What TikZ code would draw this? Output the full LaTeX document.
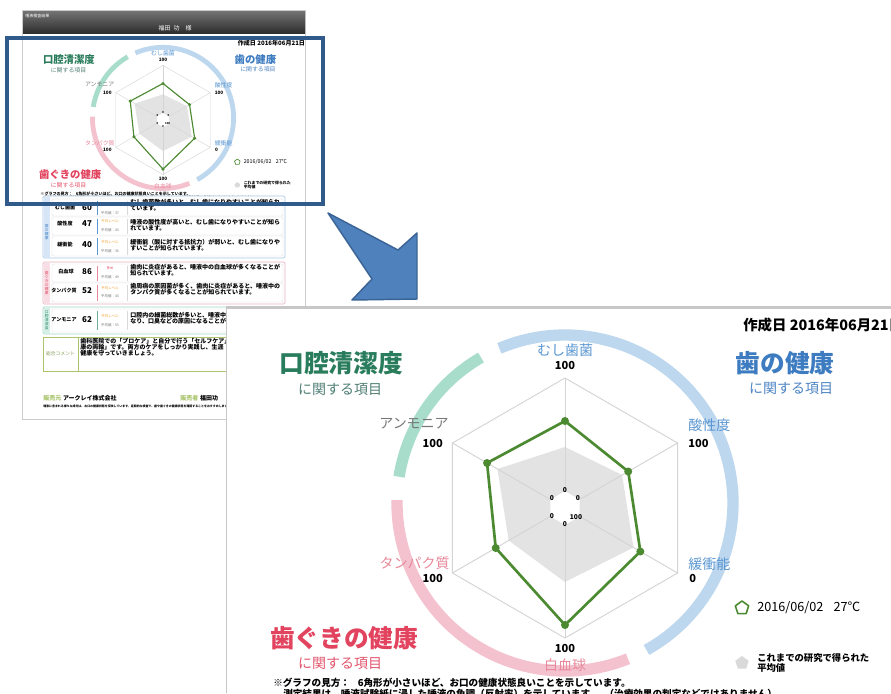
\documentclass[tikz,border=0pt]{standalone}
\usepackage{fontspec}
\setmainfont{Noto Sans CJK JP}
\definecolor{ringblue}{HTML}{BDD7EE}
\definecolor{ringteal}{HTML}{A9DDCB}
\definecolor{ringpink}{HTML}{F4C2CF}
\definecolor{titlegreen}{HTML}{2A7D5C}
\definecolor{subgreen}{HTML}{4F7F74}
\definecolor{titleblue}{HTML}{3D7CC1}
\definecolor{subblue}{HTML}{4C84C4}
\definecolor{titlered}{HTML}{E2445F}
\definecolor{subred}{HTML}{E2566E}
\definecolor{axisblue}{HTML}{5A96D2}
\definecolor{axispink}{HTML}{E8899B}
\definecolor{axisgray}{HTML}{777777}
\definecolor{plotgreen}{HTML}{4C8A32}
\definecolor{avggray}{HTML}{E3E3E3}
\definecolor{gridgray}{HTML}{D4D4D4}
\definecolor{framebl}{HTML}{2F5A89}
\definecolor{arrowfill}{HTML}{4F81BD}
\definecolor{arrowdraw}{HTML}{3B6496}
\definecolor{gonebord}{HTML}{A8C8E8}
\definecolor{gonestrip}{HTML}{D6E6F6}
\definecolor{gtwobord}{HTML}{EBB5C2}
\definecolor{gtwostrip}{HTML}{F8DDE4}
\definecolor{gthreebord}{HTML}{9FD6C5}
\definecolor{gthreestrip}{HTML}{D5EFE7}
\definecolor{gthreetext}{HTML}{2A8A6C}
\definecolor{gfourbord}{HTML}{A9C46C}
\definecolor{levorange}{HTML}{F0A030}

\newcommand\chartbody{%
  % coloured rings
  \draw[ringst, ringteal] plot[domain=-171:-120, samples=40, variable=\ang] ({565+168*cos(\ang)},{503+168*sin(\ang)});
  \draw[ringst, ringblue] plot[domain=-113:61, samples=120, variable=\ang] ({565+168*cos(\ang)},{503+168*sin(\ang)});
  \draw[ringst, ringpink] plot[domain=68:181, samples=80, variable=\ang] ({565+168*cos(\ang)},{503+168*sin(\ang)});
  % radar
  \begin{scope}[shift={(565,508)}]
    \fill[avggray, even odd rule] (-90:61) -- (-30:66) -- (30:79) -- (90:74) -- (150:65) -- (210:78) -- cycle
      (-90:17) -- (-30:17) -- (30:17) -- (90:17) -- (150:17) -- (210:17) -- cycle;
    \draw[gridst] (-90:130) -- (-30:130) -- (30:130) -- (90:130) -- (150:130) -- (210:130) -- cycle;
    \foreach \aa in {-90,-30,30,90,150,210} \draw[gridst] (\aa:17) -- (\aa:130);
    \draw[greenst] (-90:87) -- (-30:73) -- (30:87) -- (90:117) -- (150:80) -- (210:90) -- cycle;
    \foreach \aa/\rr in {-90/87,-30/73,30/87,90/117,150/80,210/90} \fill[plotgreen] (\aa:\rr) circle[radius=4];
    \node[cenlab] (cz1) at (0,-18) {0};
    \node[cenlab] (cz2) at (13,-10) {0};
    \node[cenlab] (cz3) at (-13,-10) {0};
    \node[cenlab] (cz4) at (-13,8) {0};
    \node[cenlab] (cz5) at (11,9) {100};
    \node[cenlab] (cz6) at (0,16) {0};
  \end{scope}
  % axis labels
  \node[axislab, text=axisblue] (ax1) at (565,350) {むし歯菌};
  \node[numlab] (nv1) at (565,365) {100};
  \node[axislab, text=axisblue, anchor=west] (ax2) at (688,425) {酸性度};
  \node[numlab, anchor=west] (nv2) at (688,443) {100};
  \node[axislab, text=axisblue, anchor=west] (ax3) at (688,564) {緩衝能};
  \node[numlab, anchor=west] (nv3) at (689,578) {0};
  \node[numlab] (nv4) at (565,648) {100};
  \node[axislab, text=axispink] (ax4) at (565,665) {白血球};
  \node[axislab, text=axispink, anchor=east] (ax5) at (450,563) {タンパク質};
  \node[numlab, anchor=east] (nv5) at (443,578) {100};
  \node[axislab, text=axisgray, anchor=east] (ax6) at (449,424) {アンモニア};
  \node[numlab, anchor=east] (nv6) at (443,443) {100};
  % category titles
  \node[mytitle, text=titlegreen] (t1) at (341,363) {口腔清潔度};
  \node[subtitle, text=subgreen] (s1) at (340,389) {に関する項目};
  \node[mytitle, text=titleblue] (t2) at (785,363) {歯の健康};
  \node[subtitle, text=subblue] (s2) at (791,388) {に関する項目};
  \node[mytitle, text=titlered] (t3) at (344,638) {歯ぐきの健康};
  \node[subtitle, text=subred] (s3) at (340,663) {に関する項目};
  % date
  \node[datest, anchor=west] (date) at (743,325) {作成日 2016年06月21日};
  % legend
  \begin{scope}[shift={(742,608)}]
    \draw[legst] (-90:7) -- (-18:7) -- (54:7) -- (126:7) -- (198:7) -- cycle;
  \end{scope}
  \node[legtext, anchor=west] (leg1) at (757,608) {2016/06/02\hspace{0.8em}27℃};
  \begin{scope}[shift={(742,663)}]
    \fill[black!15] (-90:7) -- (-18:7) -- (54:7) -- (126:7) -- (198:7) -- cycle;
  \end{scope}
  \node[legsmall, anchor=west] (leg2) at (757,663) {これまでの研究で得られた\\平均値};
  % footnote
  \node[foot, anchor=west] (fn1) at (273,683) {※グラフの見方：\hspace{0.8em}6角形が小さいほど、お口の健康状態良いことを示しています。};
  \node[foot, anchor=west] (fn2) at (283,694) {測定結果は、唾液試験紙に浸した唾液の色調（反射率）を示しています。\hspace{0.6em}（治療効果の判定などではありません）};
}

\begin{document}
\begin{tikzpicture}[x=0.75pt,y=-0.75pt,
  every node/.style={inner sep=0pt},
  ringst/.style={line width=8.5pt},
  gridst/.style={draw=gridgray, line width=0.7pt},
  greenst/.style={draw=plotgreen, line width=2pt, line join=round},
  legst/.style={draw=plotgreen, line width=1.2pt, line join=round},
  cenlab/.style={font=\fontsize{5}{6}\selectfont\bfseries},
  axislab/.style={font=\fontsize{10.5}{12}\selectfont},
  numlab/.style={font=\fontsize{8.3}{10}\selectfont\bfseries},
  mytitle/.style={font=\fontsize{18.5}{20}\selectfont\bfseries},
  subtitle/.style={font=\fontsize{10.5}{12}\selectfont},
  datest/.style={font=\fontsize{10.8}{12}\selectfont\bfseries},
  legtext/.style={font=\fontsize{9.5}{11}\selectfont},
  legsmall/.style={font=\fontsize{7}{7.6}\selectfont\bfseries, align=left},
  foot/.style={font=\fontsize{7.2}{8}\selectfont\bfseries},
  tname/.style={font=\fontsize{3.8}{4.5}\selectfont\bfseries},
  tval/.style={font=\fontsize{6}{7}\selectfont\bfseries},
  tlev/.style={font=\fontsize{2.6}{3}\selectfont},
  tdesc/.style={font=\fontsize{4.5}{4.5}\selectfont\bfseries, align=left, anchor=north west},
  vtext/.style={font=\fontsize{2.8}{3.1}\selectfont, align=center},
  rowbox/.style={draw=black!15, fill=white, rounded corners=1pt, line width=0.3pt}
]
\useasboundingbox (0,0) rectangle (891,693);
\fill[white] (0,0) rectangle (891,693);

% ---------- small report page ----------
\draw[black!20, fill=white, line width=0.5pt] (22,10) rectangle (305,419);
\shade[top color=black!55, bottom color=black!82] (23,11) rectangle (305,33);
\node[font=\fontsize{3}{3.5}\selectfont, text=white, anchor=west] (hdr1) at (25,16) {唾液検査結果};
\node[font=\fontsize{4.5}{5}\selectfont, text=white] (hdr2) at (175,28) {福田\hspace{0.5em}功\hspace{1em}様};

\begin{scope}[shift={(163,120)}, scale=0.42, shift={(-565,-508)}, transform shape, name prefix=s-,
  ringst/.style={line width=3.6pt},
  gridst/.style={draw=gridgray, line width=0.3pt},
  greenst/.style={draw=plotgreen, line width=0.85pt, line join=round},
  legst/.style={draw=plotgreen, line width=0.5pt, line join=round}]
  \chartbody
\end{scope}

% group 1
\draw[gonebord, fill=white, rounded corners=1pt, line width=0.5pt] (43,196) rectangle (285,258);
\fill[gonestrip] (43.5,196.5) rectangle (50,257.5);
\node[vtext, text=titleblue] (g1t) at (46.7,232) {歯\\の\\健\\康};
\draw[rowbox] (52,199) rectangle (283,216);
\draw[rowbox] (52,217) rectangle (283,235);
\draw[rowbox] (52,236) rectangle (283,256);
\foreach \ya/\yb in {200.5/214.5,218.5/233.5,237.5/254.5} {
  \draw[axisblue, line width=0.6pt] (97,\ya) -- (97,\yb);
  \draw[black!15, line width=0.3pt] (127,\ya) -- (127,\yb);
}
\node[tname] (r1n) at (65,208) {むし歯菌};
\node[tval] (r1v) at (87,208) {60};
\node[tlev, text=levorange] (r1l) at (110,204) {平均レベル};
\node[tlev, text=black!55] (r1a) at (110,213) {平均値：37};
\node[tdesc] (r1d) at (130,199) {むし歯菌数が多いと、むし歯になりやすいことが知られ\\ています。};
\node[tname] (r2n) at (65,224) {酸性度};
\node[tval] (r2v) at (87,224) {47};
\node[tlev, text=levorange] (r2l) at (110,221) {平均レベル};
\node[tlev, text=black!55] (r2a) at (110,230) {平均値：43};
\node[tdesc] (r2d) at (130,219) {唾液の酸性度が高いと、むし歯になりやすいことが知ら\\れています。};
\node[tname] (r3n) at (65,245) {緩衝能};
\node[tval] (r3v) at (87,245) {40};
\node[tlev, text=levorange] (r3l) at (110,242) {平均レベル};
\node[tlev, text=black!55] (r3a) at (110,251) {平均値：36};
\node[tdesc] (r3d) at (130,239) {緩衝能（酸に対する抵抗力）が弱いと、むし歯になりや\\すいことが知られています。};

% group 2
\draw[gtwobord, fill=white, rounded corners=1pt, line width=0.5pt] (43,262) rectangle (285,304);
\fill[gtwostrip] (43.5,262.5) rectangle (50,303.5);
\node[vtext, text=titlered] (g2t) at (46.7,283) {歯\\ぐ\\き\\の\\健\\康};
\draw[rowbox] (52,264) rectangle (283,282);
\draw[rowbox] (52,283) rectangle (283,302);
\foreach \ya/\yb in {265.5/280.5,284.5/300.5} {
  \draw[axispink, line width=0.6pt] (97,\ya) -- (97,\yb);
  \draw[black!15, line width=0.3pt] (127,\ya) -- (127,\yb);
}
\node[tname] (r4n) at (66,272) {白血球};
\node[tval] (r4v) at (87,272) {86};
\node[tlev, text=titlered] (r4l) at (110,268) {多め};
\node[tlev, text=black!55] (r4a) at (110,277) {平均値：49};
\node[tdesc] (r4d) at (130,264) {歯肉に炎症があると、唾液中の白血球が多くなることが\\知られています。};
\node[tname] (r5n) at (64,291) {タンパク質};
\node[tval] (r5v) at (87,291) {52};
\node[tlev, text=levorange] (r5l) at (110,288) {平均レベル};
\node[tlev, text=black!55] (r5a) at (110,296) {平均値：43};
\node[tdesc] (r5d) at (130,283) {歯周病の原因菌が多く、歯肉に炎症があると、唾液中の\\タンパク質が多くなることが知られています。};

% group 3
\draw[gthreebord, fill=white, rounded corners=1pt, line width=0.5pt] (43,307) rectangle (285,334);
\fill[gthreestrip] (43.5,307.5) rectangle (50,333.5);
\node[vtext, text=gthreetext] (g3t) at (46.7,320.5) {口\\腔\\清\\潔\\度};
\draw[rowbox] (52,309) rectangle (283,332);
\draw[gthreetext!70, line width=0.6pt] (97,311) -- (97,330);
\draw[black!15, line width=0.3pt] (127,311) -- (127,330);
\node[tname] (r6n) at (64,320) {アンモニア};
\node[tval] (r6v) at (87,320) {62};
\node[tlev, text=levorange] (r6l) at (110,316) {平均レベル};
\node[tlev, text=black!55] (r6a) at (110,325) {平均値：53};
\node[tdesc] (r6d) at (130,312) {口腔内の細菌総数が多いと、唾液中のアンモニアが多く\\なり、口臭などの原因になることが知られています。};

% comment box
\draw[gfourbord, fill=white, line width=0.6pt] (43,337) rectangle (285,371);
\draw[gfourbord, line width=0.4pt] (78,337) -- (78,371);
\node[font=\fontsize{3.6}{4}\selectfont, text=gfourbord!80!black] (cmt) at (60.5,354) {総合コメント};
\node[tdesc] (cmtx) at (80,338) {歯科医院での「プロケア」と自分で行う「セルフケア」は「お口の健\\康の両輪」です。両方のケアをしっかり実践し、生涯\\健康を守っていきましょう。};

% footer
\node[font=\fontsize{4.5}{5}\selectfont\bfseries, anchor=west] (ft1) at (43,398) {\textcolor{gfourbord}{販売元}\hspace{0.3em}アークレイ株式会社};
\node[font=\fontsize{4.5}{5}\selectfont\bfseries, anchor=west] (ft2) at (180,398) {\textcolor{gfourbord}{販売者}\hspace{0.3em}福田功};
\node[font=\fontsize{2.2}{2.5}\selectfont\bfseries, anchor=west] (ft3) at (43,406) {唾液に含まれる様々な成分は、お口の健康状態を反映しています。定期的な検査で、歯や歯ぐきの健康状態を確認することをおすすめします。};

% ---------- highlight frame ----------
\draw[framebl, line width=3pt] (7,37.5) rectangle (323,203.5);

% ---------- arrow ----------
\filldraw[fill=arrowfill, draw=arrowdraw, line width=1.1pt, line join=round]
  (328,213) -- (398,250) -- (417,233) -- (417,299) -- (352,300) -- (372,279) -- cycle;

% ---------- magnified panel ----------
\fill[white] (226,307) rectangle (891,693);
\fill[black!22] (226,305.5) rectangle (891,308.5);
\draw[black!22, line width=0.6pt] (226,307) -- (226,693);
\begin{scope}
  \clip (226.5,308.5) rectangle (891,693);
  \chartbody
\end{scope}
\end{tikzpicture}
\end{document}
